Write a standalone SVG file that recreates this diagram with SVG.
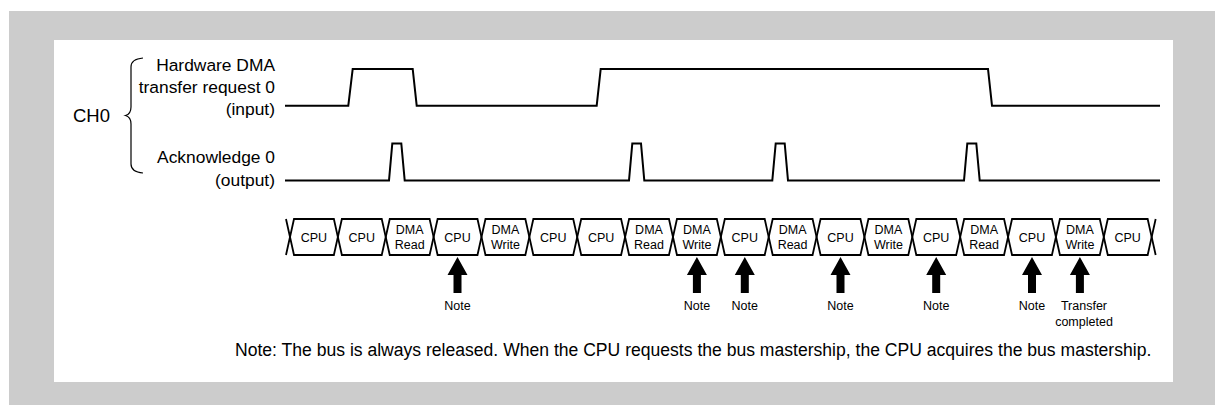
<svg xmlns="http://www.w3.org/2000/svg" xmlns:xlink="http://www.w3.org/1999/xlink" width="1215" height="405" viewBox="0 0 1215 405">
<style>
text{font-family:"Liberation Sans",Arial,sans-serif;fill:#000}
.lbl{font-size:17.4px;text-anchor:end}
.ch{font-size:18.5px}
.foot{font-size:17.57px}
.cell{font-size:12.5px;text-anchor:middle}
.nt{font-size:12.5px;text-anchor:middle}
.wave{fill:none;stroke:#000;stroke-width:2;stroke-linejoin:miter}
.bus{fill:none;stroke:#000;stroke-width:1.8;stroke-linejoin:miter}
.brace{fill:none;stroke:#000;stroke-width:1.2}
</style>
<defs>
<path id="cellshape" d="M0,237 L4,219 H43.87 L47.87,237 L43.87,255 H4 Z"/>
<path id="arrow" d="M0,257 L10,275 H4 V293 H-4 V275 H-10 Z"/>
</defs>
<rect x="9" y="11" width="1206" height="394" fill="#cccccc"/>
<rect x="54" y="40" width="1119" height="342" fill="#ffffff"/>

<g id="ch0">
<text class="ch" x="73" y="121.7">CH0</text>
<path class="brace" d="M143,58 Q131,59 131,67 V107 Q131,114 125.5,115.5 Q131,117 131,124 V164 Q131,172 143,173"/>
</g>

<g id="req-label">
<text class="lbl" x="275" y="71">Hardware DMA</text>
<text class="lbl" x="275" y="93">transfer request 0</text>
<text class="lbl" x="275" y="115">(input)</text>
</g>
<g id="ack-label">
<text class="lbl" x="275" y="163">Acknowledge 0</text>
<text class="lbl" x="275" y="186">(output)</text>
</g>

<g id="req-wave">
<path class="wave" d="M285,105.7 H348.3 L352.7,69 H412.7 L416.7,105.7 H596.7 L600.7,69 H988 L992,105.7 H1160"/>
</g>
<g id="ack-wave">
<path class="wave" d="M285,180.5 H389 L392.3,143.5 H401.3 L404.7,180.5 H629 L632.3,143.5 H641 L644.3,180.5 H772.3 L775.7,143.5 H784.7 L788,180.5 H964 L967.3,143.5 H976.3 L979.7,180.5 H1160"/>
</g>

<g id="bus">
<g class="bus">
<path d="M286,219 L290,237 L286,255"/>
<use xlink:href="#cellshape" href="#cellshape" x="290"/>
<use xlink:href="#cellshape" href="#cellshape" x="337.87"/>
<use xlink:href="#cellshape" href="#cellshape" x="385.74"/>
<use xlink:href="#cellshape" href="#cellshape" x="433.61"/>
<use xlink:href="#cellshape" href="#cellshape" x="481.48"/>
<use xlink:href="#cellshape" href="#cellshape" x="529.35"/>
<use xlink:href="#cellshape" href="#cellshape" x="577.22"/>
<use xlink:href="#cellshape" href="#cellshape" x="625.09"/>
<use xlink:href="#cellshape" href="#cellshape" x="672.96"/>
<use xlink:href="#cellshape" href="#cellshape" x="720.83"/>
<use xlink:href="#cellshape" href="#cellshape" x="768.70"/>
<use xlink:href="#cellshape" href="#cellshape" x="816.57"/>
<use xlink:href="#cellshape" href="#cellshape" x="864.44"/>
<use xlink:href="#cellshape" href="#cellshape" x="912.31"/>
<use xlink:href="#cellshape" href="#cellshape" x="960.18"/>
<use xlink:href="#cellshape" href="#cellshape" x="1008.05"/>
<use xlink:href="#cellshape" href="#cellshape" x="1055.92"/>
<use xlink:href="#cellshape" href="#cellshape" x="1103.79"/>
<path d="M1155.66,219 L1151.66,237 L1155.66,255"/>
</g>
<g id="c0"><text class="cell" x="313.9" y="241.5">CPU</text></g>
<g id="c1"><text class="cell" x="361.8" y="241.5">CPU</text></g>
<g id="c2"><text class="cell" x="409.7" y="234">DMA</text><text class="cell" x="409.7" y="249">Read</text></g>
<g id="c3"><text class="cell" x="457.5" y="241.5">CPU</text></g>
<g id="c4"><text class="cell" x="505.4" y="234">DMA</text><text class="cell" x="505.4" y="249">Write</text></g>
<g id="c5"><text class="cell" x="553.3" y="241.5">CPU</text></g>
<g id="c6"><text class="cell" x="601.2" y="241.5">CPU</text></g>
<g id="c7"><text class="cell" x="649.0" y="234">DMA</text><text class="cell" x="649.0" y="249">Read</text></g>
<g id="c8"><text class="cell" x="696.9" y="234">DMA</text><text class="cell" x="696.9" y="249">Write</text></g>
<g id="c9"><text class="cell" x="744.8" y="241.5">CPU</text></g>
<g id="c10"><text class="cell" x="792.6" y="234">DMA</text><text class="cell" x="792.6" y="249">Read</text></g>
<g id="c11"><text class="cell" x="840.5" y="241.5">CPU</text></g>
<g id="c12"><text class="cell" x="888.4" y="234">DMA</text><text class="cell" x="888.4" y="249">Write</text></g>
<g id="c13"><text class="cell" x="936.2" y="241.5">CPU</text></g>
<g id="c14"><text class="cell" x="984.1" y="234">DMA</text><text class="cell" x="984.1" y="249">Read</text></g>
<g id="c15"><text class="cell" x="1032.0" y="241.5">CPU</text></g>
<g id="c16"><text class="cell" x="1079.9" y="234">DMA</text><text class="cell" x="1079.9" y="249">Write</text></g>
<g id="c17"><text class="cell" x="1127.7" y="241.5">CPU</text></g>
</g>

<g id="markers">
<g fill="#000">
<use xlink:href="#arrow" href="#arrow" x="457.5"/>
<use xlink:href="#arrow" href="#arrow" x="696.9"/>
<use xlink:href="#arrow" href="#arrow" x="744.8"/>
<use xlink:href="#arrow" href="#arrow" x="840.5"/>
<use xlink:href="#arrow" href="#arrow" x="936.2"/>
<use xlink:href="#arrow" href="#arrow" x="1032.0"/>
<use xlink:href="#arrow" href="#arrow" x="1079.9"/>
</g>
<text class="nt" x="457.5" y="309.5">Note</text>
<text class="nt" x="696.9" y="309.5">Note</text>
<text class="nt" x="744.8" y="309.5">Note</text>
<text class="nt" x="840.5" y="309.5">Note</text>
<text class="nt" x="936.2" y="309.5">Note</text>
<text class="nt" x="1032.0" y="309.5">Note</text>
<text class="nt" x="1084" y="309.5">Transfer</text>
<text class="nt" x="1084" y="326">completed</text>
</g>

<g id="footnote">
<text class="foot" x="235" y="356">Note: The bus is always released. When the CPU requests the bus mastership, the CPU acquires the bus mastership.</text>
</g>
</svg>
